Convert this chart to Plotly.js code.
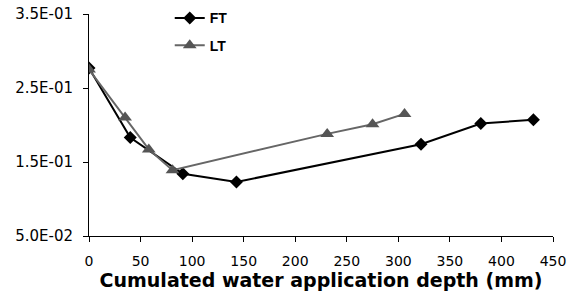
<!DOCTYPE html>
<html>
<head>
<meta charset="utf-8">
<script src="https://cdn.plot.ly/plotly-3.0.1.min.js"></script>
<style>html,body{margin:0;padding:0;background:#fff;}#chart{width:577px;height:302px;}</style>
</head>
<body>
<div id="chart"></div>
<script>
const ftX = [0, 40, 91, 143, 322, 380, 431];
const ftY = [0.277, 0.183, 0.134, 0.123, 0.174, 0.202, 0.207];
const ltX = [0, 35, 58, 81, 231, 275, 306];
const ltY = [0.275, 0.210, 0.167, 0.139, 0.188, 0.201, 0.215];
const yTickVals = [0.05, 0.15, 0.25, 0.35];
const yTickText = ["5.0E-02", "1.5E-01", "2.5E-01", "3.5E-01"];
const xTickVals = [0, 50, 100, 150, 200, 250, 300, 350, 400, 450];

const traces = [
  {x: ftX, y: ftY, name: "FT", legendgroup: "a", mode: "lines+markers", type: "scatter",
   line: {color: "#000000", width: 2},
   marker: {symbol: "diamond", size: 10, color: "#000000"}},
  {x: ltX, y: ltY, name: "LT", legendgroup: "b", mode: "lines+markers", type: "scatter",
   line: {color: "#666666", width: 2},
   marker: {symbol: "triangle-up", size: 12, color: "#555555"}}
];
const layout = {
  width: 577, height: 302,
  margin: {l: 89, r: 24, t: 0, b: 66},
  paper_bgcolor: "#ffffff", plot_bgcolor: "#ffffff",
  font: {family: "DejaVu Sans, sans-serif", color: "#000000", size: 14},
  showlegend: true,
  legend: {x: 0.174, y: 0.99, xanchor: "left", yanchor: "top", bgcolor: "rgba(0,0,0,0)",
    font: {size: 14, family: "Liberation Sans, Arial, sans-serif", weight: "bold"}, tracegroupgap: 6},
  xaxis: {range: [0, 450], tickvals: xTickVals, ticks: "outside", ticklen: 5, tickcolor: "#000",
    showline: true, linecolor: "#000", linewidth: 1, showgrid: false, zeroline: false,
    tickfont: {size: 14}, ticklabelstandoff: 7,
    title: {text: "<b>Cumulated water application depth (mm)</b>", font: {size: 19}, standoff: 0}},
  yaxis: {range: [0.05, 0.35], domain: [0, 222/236], tickvals: yTickVals, ticktext: yTickText, ticks: "outside", ticklen: 5,
    tickcolor: "#000", showline: true, linecolor: "#000", linewidth: 1, showgrid: false, zeroline: false,
    tickfont: {size: 15}, ticklabelstandoff: 7}
};
Plotly.newPlot("chart", traces, layout, {displayModeBar: false, staticPlot: true});
</script>
</body>
</html>
